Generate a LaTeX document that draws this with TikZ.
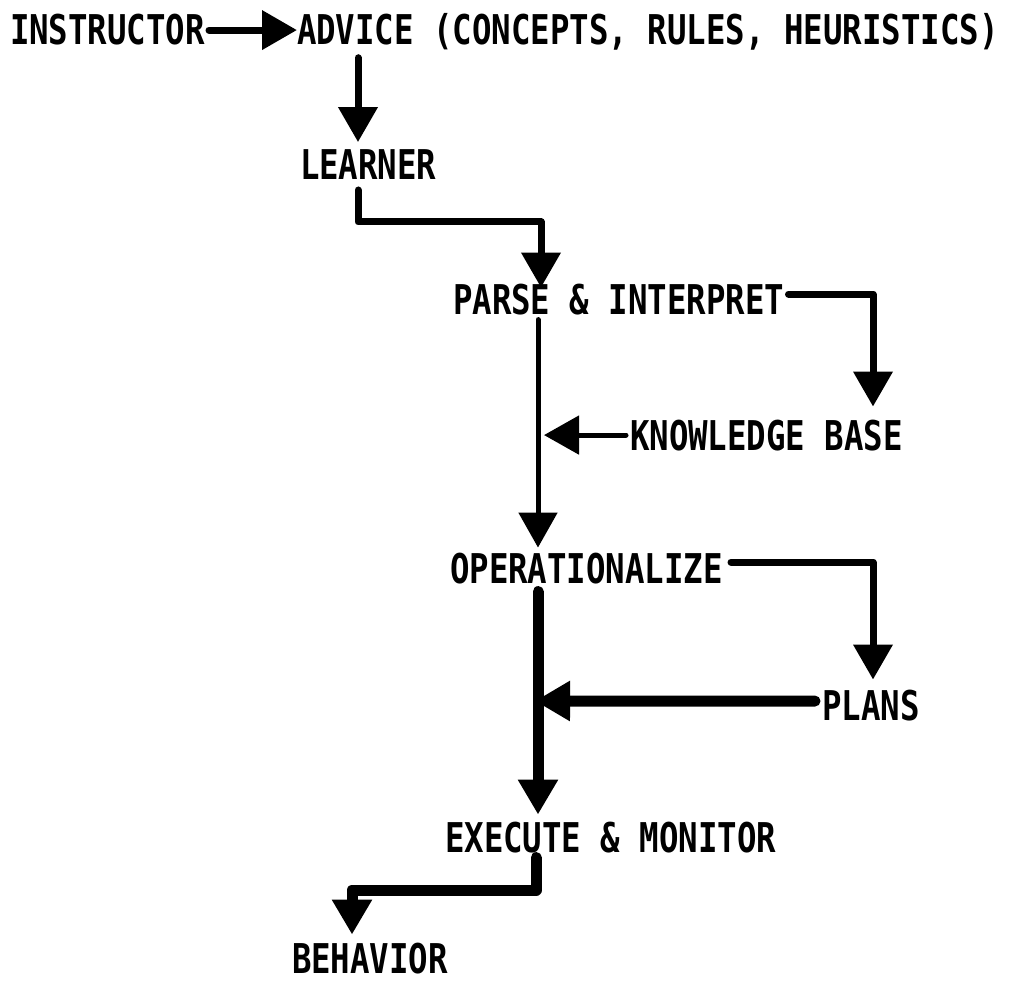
\documentclass[tikz,border=0pt]{standalone}
\usepackage{fontspec}
\newfontfamily\lbl{DejaVu Sans Mono}[FakeStretch=0.79]
\usetikzlibrary{arrows.meta,calc}
\begin{document}
\begin{tikzpicture}[x=1pt,y=-1pt,
  lab/.style={inner sep=0pt,outer sep=0pt,anchor=base west,font=\lbl\bfseries\fontsize{41}{41}\selectfont},
  arr/.style={draw,line width=7pt,line join=round,line cap=round,-{Triangle[width=38pt,length=35pt]}},
  thin/.style={line width=5pt},
  thick/.style={line width=11pt}]
\useasboundingbox (0,0) rectangle (1013,984);
\node[lab] (instr)  at (10,45)  {INSTRUCTOR};
\node[lab] (advice) at (297,45) {ADVICE (CONCEPTS, RULES, HEURISTICS)};
\node[lab] (learner) at (300,180) {LEARNER};
\node[lab] (parse) at (453,315) {PARSE \& INTERPRET};
\node[lab] (kb) at (630,450) {KNOWLEDGE BASE};
\node[lab] (oper) at (450,583) {OPERATIONALIZE};
\node[lab] (plans) at (822,720) {PLANS};
\node[lab] (exec) at (445,852) {EXECUTE \& MONITOR};
\node[lab] (behav) at (292,973) {BEHAVIOR};
% column positions
\coordinate (xA) at (358,0);
\coordinate (xB) at (541,0);
\coordinate (xC) at (873,0);
\coordinate (xD) at (538,0);
\coordinate (xE) at (536,0);
\coordinate (xF) at (352,0);
\coordinate (y1) at (0,222);
\coordinate (y2) at (0,890);
\coordinate (y3) at (0,701);
% connectors
\draw[arr,shorten <=4pt] (instr.east) -- (instr.east -| advice.west);
\draw[arr,shorten <=7pt,shorten >=8pt] (xA |- advice.south) -- (xA |- learner.north);
\draw[arr,shorten <=10pt,shorten >=-3pt] (xA |- learner.south) -- (xA |- y1) -- (xB |- y1) -- (xB |- parse.north);
\draw[arr,shorten >=13pt] ($(parse.east)+(4,-6)$) -| (xC |- kb.north);
\draw[arr,thin,shorten <=4pt,shorten >=5pt] (xD |- parse.south) -- (xD |- oper.north);
\draw[arr,thin,shorten <=4pt,shorten >=6pt] (kb.west) -- (xD |- kb.west);
\draw[arr,shorten >=10pt] ($(oper.east)+(8,-6)$) -| (xC |- plans.north);
\draw[arr,thick,shorten <=8pt,shorten >=7pt] (xD |- oper.south) -- (xD |- exec.north);
\draw[arr,thick,shorten <=7pt,shorten >=-3pt] ($(plans.west)+(0,-4)$) -- (xD |- y3);
\draw[arr,thick,shorten <=5pt,shorten >=8pt] (xE |- exec.south) -- (xE |- y2) -- (xF |- y2) -- (xF |- behav.north);
\end{tikzpicture}
\end{document}
